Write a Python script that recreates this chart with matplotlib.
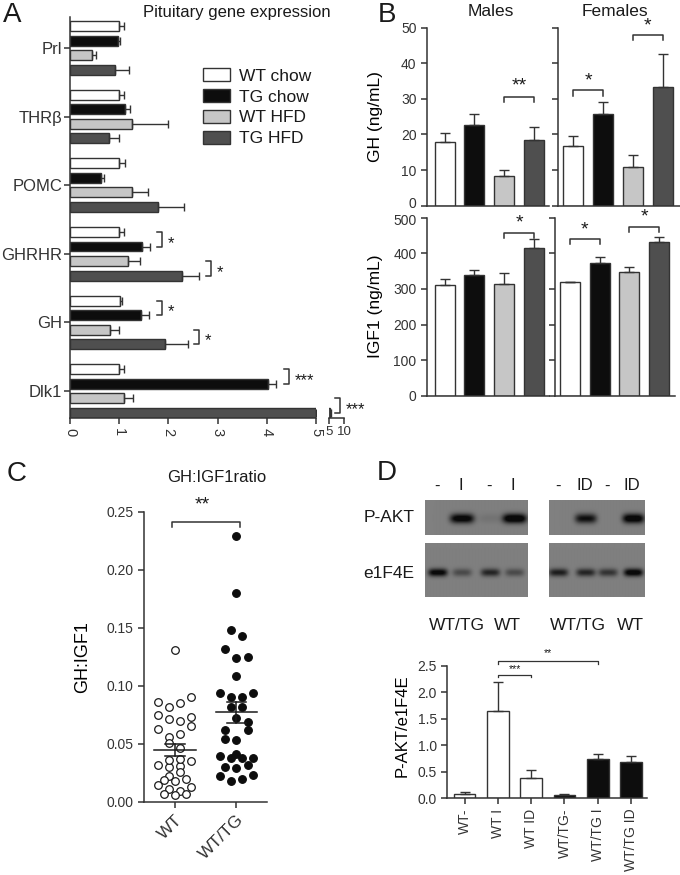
import numpy as np
import matplotlib
matplotlib.use("Agg")
import matplotlib.pyplot as plt
from matplotlib.patches import Patch
from matplotlib.transforms import ScaledTranslation

plt.rcParams['font.family'] = ['Liberation Sans', 'DejaVu Sans']
plt.rcParams['axes.linewidth'] = 1.1
plt.rcParams['axes.edgecolor'] = '#333333'
plt.rcParams['xtick.color'] = '#333333'
plt.rcParams['ytick.color'] = '#333333'
plt.rcParams['text.color'] = '#1a1a1a'

W, H = 680, 875


def rect(l, t, r, b):
    return [l / W, 1 - b / H, (r - l) / W, (b - t) / H]


# ---------------- data ----------------
# A: pituitary gene expression
genes = ['Prl', 'THRβ', 'POMC', 'GHRHR', 'GH', 'Dlk1']
groups = ['WT chow', 'TG chow', 'WT HFD', 'TG HFD']
expr_wt_chow = [1.0, 1.0, 1.0, 1.0, 1.01, 1.0]
expr_tg_chow = [0.97, 1.12, 0.63, 1.46, 1.45, 4.03]
expr_wt_hfd = [0.45, 1.25, 1.26, 1.17, 0.81, 1.1]
expr_tg_hfd = [0.92, 0.79, 1.78, 2.28, 1.94, 5.4]
err_wt_chow = [0.1, 0.09, 0.12, 0.1, 0.05, 0.09]
err_tg_chow = [0.05, 0.1, 0.07, 0.17, 0.15, 0.15]
err_wt_hfd = [0.08, 0.74, 0.33, 0.26, 0.18, 0.19]
err_tg_hfd = [0.28, 0.21, 0.54, 0.35, 0.45, 0.3]

# B: serum GH and IGF1
gh_male = [18.0, 22.6, 8.3, 18.5]
gh_male_err = [2.5, 3.2, 1.6, 3.5]
gh_female = [16.9, 25.8, 11.0, 33.4]
gh_female_err = [2.7, 3.2, 3.3, 9.3]
igf_male = [311, 340, 315, 415]
igf_male_err = [16, 14, 31, 24]
igf_female = [318, 373, 347, 431]
igf_female_err = [2, 17, 15, 16]

# C: GH:IGF1 ratio (slot = column in the dot cloud)
wt_slot = [0, -3, -1, 1, 3, -3, -1, 1, 3, -3, -1, 1, 3, -1, 1, -3, -1, 1, 3,
           -1, 1, 1, -1, -3, -2, 0, 2, 3, -1, 1, -2, 0, 2]
wt_ratio = [0.131, 0.086, 0.082, 0.085, 0.090, 0.075, 0.071, 0.070, 0.073,
            0.063, 0.056, 0.058, 0.065, 0.051, 0.046, 0.032, 0.030, 0.031, 0.035,
            0.036, 0.037, 0.026, 0.022, 0.014, 0.019, 0.018, 0.020, 0.013,
            0.011, 0.009, 0.007, 0.006, 0.007]
tg_slot = [0, 0, -1, 1, -2, 0, 2, 0, -3, -1, 1, 3, -1, 1, 0, 2, -2, 2, -2, 0,
           -3, -1, 0, 1, 3, -2, 0, 2, -3, -1, 1, 3]
tg_ratio = [0.229, 0.180, 0.148, 0.143, 0.132, 0.124, 0.125, 0.108, 0.094, 0.090,
            0.090, 0.094, 0.082, 0.082, 0.072, 0.069, 0.062, 0.062, 0.054, 0.053,
            0.039, 0.038, 0.041, 0.038, 0.038, 0.030, 0.029, 0.032, 0.022, 0.018,
            0.020, 0.023]

# D: western blot quantification
d_labels = ['WT-', 'WT I', 'WT ID', 'WT/TG-', 'WT/TG I', 'WT/TG ID']
d_vals = [0.08, 1.64, 0.39, 0.07, 0.74, 0.68]
d_err = [0.04, 0.56, 0.14, 0.01, 0.09, 0.12]
lanes_left = ['-', 'I', '-', 'I']
lanes_right = ['-', 'ID', '-', 'ID']
pakt_left = [0.0, 0.9, 0.08, 1.0]
pakt_right = [0.0, 0.75, 0.0, 0.95]
eif_left = [0.85, 0.35, 0.6, 0.35]
eif_right = [0.65, 0.6, 0.5, 0.9]

colors = ['white', '#0d0d0d', '#c6c6c6', '#4f4f4f']
edge = '#333333'

fig = plt.figure(figsize=(6.8, 8.75), dpi=100)


def style(ax):
    ax.spines['top'].set_visible(False)
    ax.spines['right'].set_visible(False)
    ax.tick_params(length=4, width=1.1, labelsize=10)


def nudge(label, dy):
    label.set_transform(label.get_transform() +
                        ScaledTranslation(0, dy / 72, fig.dpi_scale_trans))


# ---------------- A ----------------
axA = fig.add_axes(rect(70, 17, 316, 418))
style(axA)
ypos = np.arange(len(genes))
offs = [-0.317, -0.106, 0.106, 0.317]
vals = [expr_wt_chow, expr_tg_chow, expr_wt_hfd, np.minimum(expr_tg_hfd, 5)]
errs = [err_wt_chow, err_tg_chow, err_wt_hfd, err_tg_hfd]
for k in range(4):
    axA.barh(ypos + offs[k], vals[k], height=0.145, color=colors[k],
             edgecolor=edge, linewidth=1)
    axA.errorbar(vals[k], ypos + offs[k], xerr=[np.zeros(6), errs[k]], fmt='none',
                 ecolor=edge, elinewidth=1, capsize=3, capthick=1)
axA.set_xlim(0, 5)
axA.set_ylim(5.394, -0.452)
axA.set_yticks(ypos)
axA.set_yticklabels(genes, fontsize=12)
axA.tick_params(axis='y', pad=1.5)
axA.set_xticks(range(6))
axA.set_xticklabels([str(i) for i in range(6)], rotation=-90, fontsize=10.5)
fig.text(237 / W, 1 - 12 / H, 'Pituitary gene expression', fontsize=12,
         ha='center', va='center')

# broken axis part (5 - 10)
axA2 = fig.add_axes(rect(329, 17, 344, 418))
axA2.barh(ypos[5] + offs[3], expr_tg_hfd[5], height=0.145, color=colors[3],
          edgecolor=edge, linewidth=1)
axA2.errorbar(expr_tg_hfd[5], ypos[5] + offs[3], xerr=[[0], [err_tg_hfd[5]]],
              fmt='none', ecolor=edge, elinewidth=1, capsize=3)
axA2.set_xlim(5, 10)
axA2.set_ylim(5.394, -0.452)
for s in ['top', 'right', 'left']:
    axA2.spines[s].set_visible(False)
axA2.set_yticks([])
axA2.set_xticks([5, 10])
axA2.tick_params(length=4, width=1.1, labelsize=9.5, pad=2)
axA2.patch.set_alpha(0)


def hbracket(ax, x, y1, y2, txt, fs=12):
    ax.plot([x - 0.1, x, x, x - 0.1], [y1, y1, y2, y2], color=edge, lw=1.1,
            clip_on=False)
    ax.text(x + 0.12, (y1 + y2) / 2 + 0.06, txt, fontsize=fs, va='center',
            ha='left')


hbracket(axA, 1.86, 3 + offs[0], 3 + offs[1], '*')
hbracket(axA, 2.87, 3 + offs[2], 3 + offs[3], '*')
hbracket(axA, 1.86, 4 + offs[0], 4 + offs[1], '*')
hbracket(axA, 2.62, 4 + offs[2], 4 + offs[3], '*')
hbracket(axA, 4.45, 5 + offs[0], 5 + offs[1], '***')
hbracket(axA, 5.49, 5 + offs[2], 5 + offs[3], '***')

handles = [Patch(facecolor=c, edgecolor=edge, linewidth=1) for c in colors]
axA.legend(handles, groups, loc='upper left', bbox_to_anchor=(203 / W, 1 - 68 / H),
           bbox_transform=fig.transFigure, frameon=False, fontsize=12.5,
           handlelength=1.55, handleheight=0.8, labelspacing=0.3,
           handletextpad=0.55, borderpad=0, borderaxespad=0)

# ---------------- B ----------------
xb = np.arange(4)


def bbars(ax, v, e, ylim, ticks, labels=True):
    style(ax)
    ax.bar(xb, v, width=0.67, color=colors, edgecolor=edge, linewidth=1)
    ax.errorbar(xb, v, yerr=[np.zeros(4), e], fmt='none', ecolor=edge,
                elinewidth=1, capsize=3.5, capthick=1)
    ax.set_ylim(*ylim)
    ax.set_yticks(ticks)
    if not labels:
        ax.set_yticklabels([])
    ax.set_xticks([])


def vbracket(ax, x1, x2, y, dy, txt, ty, fs=14):
    ax.plot([x1, x1, x2, x2], [y - dy, y, y, y - dy], color=edge, lw=1.1,
            clip_on=False)
    ax.text((x1 + x2) / 2, ty, txt, fontsize=fs, ha='center', va='center')


axGm = fig.add_axes(rect(427, 27.7, 549, 205.7))
bbars(axGm, gh_male, gh_male_err, (0, 50), range(0, 51, 10))
axGm.set_xlim(-0.587, 3.5)
axGm.set_ylabel('GH (ng/mL)', fontsize=12.5)
axGm.yaxis.set_label_coords(-0.36, 0.5)
vbracket(axGm, 2, 3, 30.5, 1.3, '**', 33.5)

axGf = fig.add_axes(rect(558, 27.7, 680, 205.7))
bbars(axGf, gh_female, gh_female_err, (0, 50), range(0, 51, 10), labels=False)
axGf.set_xlim(-0.5, 3.57)
vbracket(axGf, 0, 1, 32.4, 1.5, '*', 35)
vbracket(axGf, 2, 3, 48, 1.5, '*', 50.5)

axIm = fig.add_axes(rect(427, 217.7, 549, 395.7))
bbars(axIm, igf_male, igf_male_err, (0, 500), range(0, 501, 100))
axIm.set_xlim(-0.587, 3.5)
axIm.set_ylabel('IGF1 (ng/mL)', fontsize=12.5)
axIm.yaxis.set_label_coords(-0.36, 0.5)
vbracket(axIm, 2, 3, 458, 14, '*', 485)

axIf = fig.add_axes(rect(555, 217.7, 675, 395.7))
bbars(axIf, igf_female, igf_female_err, (0, 500), range(0, 501, 100), labels=False)
axIf.set_xlim(-0.505, 3.54)
vbracket(axIf, 0, 1, 439, 14, '*', 466)
vbracket(axIf, 2, 3, 475, 14, '*', 502)

# keep the "0" of GH and the "500" of IGF1 apart
nudge(axGm.get_yticklabels()[0], 2.0)
nudge(axIm.get_yticklabels()[-1], -1.5)

fig.text(491 / W, 1 - 12 / H, 'Males', fontsize=12.5, ha='center', va='center')
fig.text(615 / W, 1 - 12 / H, 'Females', fontsize=12.5, ha='center', va='center')

# ---------------- C ----------------
axC = fig.add_axes(rect(144, 511.7, 266.7, 801.7))
style(axC)
slot_w = 0.09
axC.scatter(1 + np.array(wt_slot) * slot_w, wt_ratio, s=30, facecolor='white',
            edgecolor='#1a1a1a', linewidth=0.9, zorder=3, clip_on=False)
axC.scatter(2 + np.array(tg_slot) * slot_w, tg_ratio, s=30, facecolor='#0d0d0d',
            edgecolor='#0d0d0d', linewidth=0.9, zorder=3, clip_on=False)
for xc, d in [(1, wt_ratio), (2, tg_ratio)]:
    m = np.mean(d)
    se = np.std(d, ddof=1) / np.sqrt(len(d))
    axC.plot([xc - 0.34, xc + 0.34], [m, m], color='#1a1a1a', lw=1.1, zorder=4)
    axC.plot([xc, xc], [m - se, m + se], color='#1a1a1a', lw=1.1, zorder=4)
    axC.plot([xc - 0.16, xc + 0.16], [m + se, m + se], color='#1a1a1a', lw=1.1, zorder=4)
    axC.plot([xc - 0.16, xc + 0.16], [m - se, m - se], color='#1a1a1a', lw=1.1, zorder=4)
axC.set_xlim(0.5, 2.49)
axC.set_ylim(0, 0.25)
axC.set_yticks(np.arange(0, 0.251, 0.05))
axC.set_yticklabels(['%.2f' % v for v in np.arange(0, 0.251, 0.05)])
axC.set_xticks([1, 2])
axC.set_xticklabels(['WT', 'WT/TG'], rotation=45, ha='right',
                    rotation_mode='anchor', fontsize=12.5)
axC.set_ylabel('GH:IGF1', fontsize=13)
axC.yaxis.set_label_coords(-0.43, 0.5)
axC.plot([0.95, 0.95, 2.06, 2.06], [0.237, 0.241, 0.241, 0.237], color=edge,
         lw=1.1, clip_on=False)
axC.text(1.45, 0.256, '**', fontsize=14, ha='center', va='center')
fig.text(217 / W, 1 - 478 / H, 'GH:IGF1ratio', fontsize=12, ha='center', va='center')


# ---------------- D ----------------
def blot(l, t, r, b, lanes, amps, cy, sx, sy):
    ax = fig.add_axes(rect(l, t, r, b))
    w, h = int(r - l), int(b - t)
    X, Y = np.meshgrid(np.arange(w) + l, np.arange(h) + t)
    img = np.full((h, w), 0.5)
    for cx, a in zip(lanes, amps):
        img -= a * 0.6 * np.exp(-((X - cx) / sx) ** 4 / 2 - ((Y - cy) / sy) ** 2 / 2)
    ax.imshow(np.clip(img, 0.04, 1), cmap='gray', vmin=0, vmax=1, aspect='auto',
              interpolation='bilinear')
    ax.axis('off')


lx_left = [437, 461, 489, 513]
lx_right = [558, 585, 607, 632]
blot(424.7, 500, 527.3, 535, lx_left, pakt_left, 518, 10, 3.4)
blot(549, 500, 644.3, 535, lx_right, pakt_right, 518, 9, 3.4)
blot(424.7, 543, 527.3, 597, lx_left, eif_left, 572, 8, 2.8)
blot(549, 543, 644.3, 597, lx_right, eif_right, 572, 8, 2.8)

for xs, labs in [(lx_left, lanes_left), (lx_right, lanes_right)]:
    for x, s in zip(xs, labs):
        fig.text(x / W, 1 - 486 / H, s, fontsize=12, ha='center', va='center')
fig.text(389 / W, 1 - 518 / H, 'P-AKT', fontsize=12.5, ha='center', va='center')
fig.text(389 / W, 1 - 573 / H, 'e1F4E', fontsize=12.5, ha='center', va='center')
for x, s in [(457, 'WT/TG'), (507, 'WT'), (578, 'WT/TG'), (630, 'WT')]:
    fig.text(x / W, 1 - 625 / H, s, fontsize=12.5, ha='center', va='center')

axD = fig.add_axes(rect(447.3, 665.7, 646.7, 798.3))
style(axD)
xd = np.arange(len(d_labels))
axD.bar(xd, d_vals, width=0.65, color=['white'] * 3 + ['#0d0d0d'] * 3,
        edgecolor=edge, linewidth=1)
axD.errorbar(xd, d_vals, yerr=[np.zeros(6), d_err], fmt='none', ecolor=edge,
             elinewidth=1, capsize=3.5, capthick=1)
axD.set_xlim(-0.52, 5.47)
axD.set_ylim(0, 2.5)
axD.set_yticks(np.arange(0, 2.51, 0.5))
axD.set_yticklabels(['%.1f' % v for v in np.arange(0, 2.51, 0.5)])
axD.set_xticks(xd)
axD.set_xticklabels(d_labels, rotation=90, fontsize=10)
axD.set_ylabel('P-AKT/e1F4E', fontsize=12)
axD.yaxis.set_label_coords(-0.19, 0.55)
axD.plot([1, 1, 2, 2], [2.28, 2.33, 2.33, 2.28], color=edge, lw=0.9, clip_on=False)
axD.text(1.5, 2.43, '***', fontsize=7.5, ha='center', va='center')
axD.plot([1, 1, 4, 4], [2.53, 2.58, 2.58, 2.53], color=edge, lw=0.9, clip_on=False)
axD.text(2.5, 2.74, '**', fontsize=7.5, ha='center', va='center')

# panel letters
for x, y, s in [(12, 15, 'A'), (387, 15, 'B'), (17, 474, 'C'), (387, 473, 'D')]:
    fig.text(x / W, 1 - y / H, s, fontsize=20, ha='center', va='center')

fig.savefig('out.png', dpi=100)
